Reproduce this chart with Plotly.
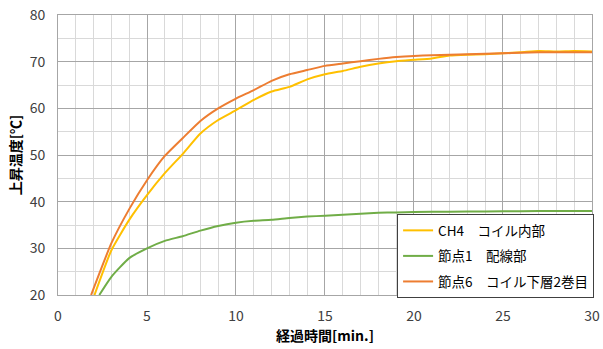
import plotly.graph_objects as go

# Time [min]
t_ch4 = [2.05, 3, 4, 5, 6, 7, 8, 9, 10, 11, 12, 13, 14, 15, 16, 17, 18, 19, 20, 21, 22, 23, 24, 25, 26, 27, 28, 29, 30]
v_ch4 = [20, 29.6, 36.1, 41.4, 46.1, 50.2, 54.6, 57.5, 59.6, 61.8, 63.6, 64.6, 66.2, 67.3, 68.0, 68.9, 69.6, 70.1, 70.4, 70.7, 71.3, 71.5, 71.6, 71.8, 72.0, 72.3, 72.2, 72.3, 72.2]

t_n1 = [2.32, 3, 4, 5, 6, 7, 8, 9, 10, 11, 12, 13, 14, 15, 16, 17, 18, 19, 20, 22, 24, 26, 28, 30]
v_n1 = [20, 23.9, 27.9, 30.0, 31.6, 32.6, 33.8, 34.8, 35.5, 35.9, 36.1, 36.5, 36.8, 37.0, 37.2, 37.4, 37.6, 37.7, 37.8, 37.85, 37.9, 37.95, 38.0, 38.0]

t_n6 = [1.86, 3, 4, 5, 6, 7, 8, 9, 10, 11, 12, 13, 14, 15, 16, 17, 18, 19, 20, 21, 22, 23, 24, 25, 26, 27, 28, 29, 30]
v_n6 = [20, 31.1, 38.4, 44.6, 49.8, 53.6, 57.3, 60.0, 62.1, 63.9, 65.9, 67.3, 68.2, 69.1, 69.6, 70.1, 70.6, 71.0, 71.2, 71.4, 71.5, 71.6, 71.7, 71.8, 71.9, 72.0, 72.0, 72.0, 72.0]

names = ["CH4\u3000コイル内部", "節点1\u3000配線部", "節点6\u3000コイル下層2巻目"]
colors = ["#FFC000", "#70AD47", "#ED7D31"]

FONT = "Noto Sans CJK JP"

fig = go.Figure()
for i, (t, v, n, c) in enumerate(zip([t_ch4, t_n1, t_n6], [v_ch4, v_n1, v_n6], names, colors)):
    fig.add_trace(go.Scatter(x=t, y=v, mode="lines", name=n, legendgroup=f"g{i}",
                             line=dict(color=c, width=2, shape="spline", smoothing=0.5)))

fig.update_layout(
    width=603, height=349,
    margin=dict(l=58, r=9, t=15, b=54),
    paper_bgcolor="white", plot_bgcolor="white",
    font=dict(family=FONT, size=13, color="#404040"),
    showlegend=True,
    legend=dict(x=0.635, y=0.289, xanchor="left", yanchor="top",
                bgcolor="white", bordercolor="#404040", borderwidth=1,
                font=dict(family=FONT, size=13.5, color="#000000"),
                itemwidth=30, traceorder="grouped", tracegroupgap=5),
)
fig.update_xaxes(
    range=[0, 30.001], dtick=5, tick0=0, showgrid=True, gridcolor="#A6A6A6", gridwidth=1,
    minor=dict(dtick=1, showgrid=True, gridcolor="#D9D9D9", gridwidth=1),
    showline=True, linecolor="#A6A6A6", mirror=True, zeroline=False,
    ticks="", tickfont=dict(size=14, color="#404040"), ticklabeloverflow="allow",
    ticklabelstandoff=8, automargin=False,
    title=dict(text="<b>経過時間[min.]</b>", font=dict(family=FONT, size=14, color="#000000"), standoff=6),
)
fig.update_yaxes(
    range=[20, 80], dtick=10, showgrid=True, gridcolor="#A6A6A6", gridwidth=1,
    minor=dict(dtick=5, showgrid=True, gridcolor="#D9D9D9", gridwidth=1),
    showline=True, linecolor="#A6A6A6", mirror=True, zeroline=False,
    ticks="", tickfont=dict(size=14, color="#404040"), automargin=False,
    ticklabelstandoff=9,
    title=dict(text="<b>上昇温度[℃]</b>", font=dict(family=FONT, size=14, color="#000000"), standoff=4),
)

fig.write_html("out.html", config={"displayModeBar": False},
               post_script="document.body.style.margin='0';document.body.style.overflow='hidden';")
